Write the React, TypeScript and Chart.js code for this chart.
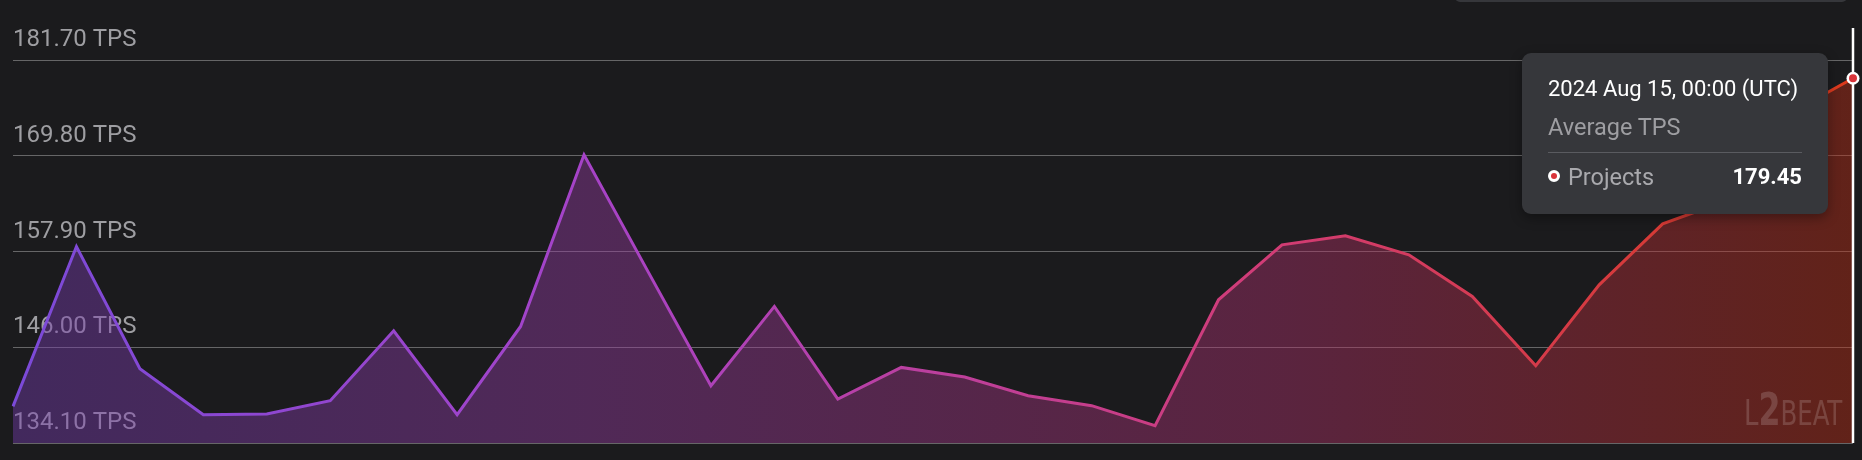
import React, { useEffect, useRef } from "react";
import { Chart, registerables } from "chart.js";

Chart.register(...registerables);

// ---- data ----
const dateLabels = [
  "2024 Jul 17", "2024 Jul 18", "2024 Jul 19", "2024 Jul 20", "2024 Jul 21",
  "2024 Jul 22", "2024 Jul 23", "2024 Jul 24", "2024 Jul 25", "2024 Jul 26",
  "2024 Jul 27", "2024 Jul 28", "2024 Jul 29", "2024 Jul 30", "2024 Jul 31",
  "2024 Aug 01", "2024 Aug 02", "2024 Aug 03", "2024 Aug 04", "2024 Aug 05",
  "2024 Aug 06", "2024 Aug 07", "2024 Aug 08", "2024 Aug 09", "2024 Aug 10",
  "2024 Aug 11", "2024 Aug 12", "2024 Aug 13", "2024 Aug 14", "2024 Aug 15",
];
const tpsValues = [
  138.65, 158.53, 143.33, 137.62, 137.7, 139.36, 148.06, 137.62, 148.59, 169.93,
  155.53, 141.22, 151.08, 139.57, 143.5, 142.3, 139.98, 138.74, 136.25, 151.91,
  158.74, 159.86, 157.5, 152.32, 143.71, 153.77, 161.35, 164.2, 175.06, 179.45,
];
const yTickValues = [134.1, 146.0, 157.9, 169.8, 181.7];
const yMin = 134.1;
const yMax = 185.7;
const seriesName = "Projects";
const tooltipTitle = "2024 Aug 15, 00:00 (UTC)";
const tooltipSubtitle = "Average TPS";
const activeIndex = tpsValues.length - 1;

const BG = "#1b1b1d";

const lineStops: [number, string][] = [
  [0, "#7b4ad8"],
  [0.31, "#a643c8"],
  [0.69, "#d23c74"],
  [0.9, "#d63a34"],
  [1, "#dc3a1c"],
];
const fillStops: [number, string][] = [
  [0, "rgba(116,60,173,0.45)"],
  [0.31, "rgba(147,60,160,0.45)"],
  [0.69, "rgba(169,49,107,0.45)"],
  [1, "rgba(185,45,22,0.45)"],
];

function hGradient(chart: any, stops: [number, string][]) {
  const area = chart.chartArea;
  if (!area) return stops[0][1];
  const g = chart.ctx.createLinearGradient(area.left, 0, area.right, 0);
  stops.forEach(([o, c]) => g.addColorStop(o, c));
  return g;
}

const crosshairPlugin = {
  id: "crosshair",
  afterDatasetsDraw(chart: any) {
    const meta = chart.getDatasetMeta(0);
    const el = meta.data[activeIndex];
    if (!el) return;
    const { ctx, chartArea } = chart;
    ctx.save();
    ctx.strokeStyle = "#ffffff";
    ctx.lineWidth = 2.5;
    ctx.beginPath();
    ctx.moveTo(el.x, chartArea.top);
    ctx.lineTo(el.x, chartArea.bottom);
    ctx.stroke();
    ctx.beginPath();
    ctx.arc(el.x, el.y, 6.5, 0, Math.PI * 2);
    ctx.fillStyle = "#ffffff";
    ctx.fill();
    ctx.beginPath();
    ctx.arc(el.x, el.y, 4, 0, Math.PI * 2);
    ctx.fillStyle = "#d9343a";
    ctx.fill();
    ctx.restore();
  },
};

function TpsChart() {
  const ref = useRef<HTMLCanvasElement | null>(null);
  useEffect(() => {
    if (!ref.current) return;
    const chart = new Chart(ref.current, {
      type: "line",
      data: {
        labels: dateLabels,
        datasets: [
          {
            label: seriesName,
            data: tpsValues,
            borderWidth: 3,
            tension: 0,
            pointRadius: 0,
            pointHoverRadius: 0,
            fill: "start",
            borderColor: (c: any) => hGradient(c.chart, lineStops),
            backgroundColor: (c: any) => hGradient(c.chart, fillStops),
          },
        ],
      },
      options: {
        animation: false,
        responsive: false,
        devicePixelRatio: 1,
        events: [],
        layout: { padding: { left: 13, right: 9, top: 28, bottom: 17 } },
        plugins: {
          legend: { display: false },
          tooltip: { enabled: false },
        },
        scales: {
          x: { display: false, offset: false },
          y: {
            min: yMin,
            max: yMax,
            afterBuildTicks: (scale: any) => {
              scale.ticks = yTickValues.map((v) => ({ value: v }));
            },
            border: { display: false },
            grid: {
              color: "rgba(255,255,255,0.33)",
              lineWidth: 1,
              drawTicks: false,
            },
            ticks: {
              mirror: true,
              padding: 0,
              labelOffset: -20,
              color: "#9e9ea2",
              font: { family: "Roboto", size: 24 },
              callback: (v: any) => Number(v).toFixed(2) + " TPS",
            },
          },
        },
      },
      plugins: [crosshairPlugin],
    } as any);
    return () => chart.destroy();
  }, []);
  return (
    <canvas
      ref={ref}
      width={1862}
      height={460}
      style={{ display: "block", width: 1862, height: 460 }}
    />
  );
}

export default function App() {
  const value = tpsValues[activeIndex].toFixed(2);
  return (
    <div
      style={{
        position: "fixed",
        left: 0,
        top: 0,
        width: 1862,
        height: 460,
        background: BG,
        overflow: "hidden",
        fontFamily: "Roboto, sans-serif",
      }}
    >
      <TpsChart />
      {/* partially visible control above the chart */}
      <div
        style={{
          position: "absolute",
          left: 1455,
          top: -8,
          width: 392,
          height: 10,
          background: "#36373b",
          borderRadius: 8,
        }}
      />
      {/* watermark */}
      <div
        style={{
          position: "absolute",
          left: 1744,
          top: 388,
          height: 44,
          color: "rgba(255,255,255,0.16)",
          fontFamily: "'DejaVu Sans Condensed', 'Liberation Sans Narrow', sans-serif",
          whiteSpace: "nowrap",
          lineHeight: "44px",
          transform: "scaleX(0.8)",
          transformOrigin: "left center",
        }}
      >
        <span style={{ fontSize: 36 }}>L</span>
        <span style={{ fontSize: 44, fontWeight: 700 }}>2</span>
        <span style={{ fontSize: 34 }}>BEAT</span>
      </div>
      {/* tooltip */}
      <div
        style={{
          position: "absolute",
          left: 1522,
          top: 53,
          width: 306,
          height: 161,
          background: "#36373b",
          borderRadius: 9,
          boxShadow: "0 4px 12px rgba(0,0,0,0.35)",
          color: "#ffffff",
        }}
      >
        <div
          style={{
            position: "absolute",
            left: 26,
            top: 25,
            fontSize: 22,
            lineHeight: "22px",
            whiteSpace: "nowrap",
            color: "#ffffff",
          }}
        >
          {tooltipTitle}
        </div>
        <div
          style={{
            position: "absolute",
            left: 26,
            top: 62,
            fontSize: 23.5,
            lineHeight: "24px",
            whiteSpace: "nowrap",
            color: "#9e9ea2",
          }}
        >
          {tooltipSubtitle}
        </div>
        <div
          style={{
            position: "absolute",
            left: 26,
            right: 26,
            top: 99,
            height: 1,
            background: "#5a5b60",
          }}
        />
        <div
          style={{
            position: "absolute",
            left: 26,
            top: 117,
            width: 12,
            height: 12,
            borderRadius: 6,
            background: "#ffffff",
            boxSizing: "border-box",
            border: "3px solid #ffffff",
          }}
        >
          <div
            style={{
              width: 6,
              height: 6,
              borderRadius: 3,
              background: "#d9343a",
            }}
          />
        </div>
        <div
          style={{
            position: "absolute",
            left: 46,
            top: 112,
            fontSize: 23.5,
            lineHeight: "24px",
            whiteSpace: "nowrap",
            color: "#a9a9ad",
          }}
        >
          {seriesName}
        </div>
        <div
          style={{
            position: "absolute",
            right: 26,
            top: 113,
            fontSize: 22,
            lineHeight: "22px",
            fontWeight: 700,
            whiteSpace: "nowrap",
            color: "#ffffff",
          }}
        >
          {value}
        </div>
      </div>
    </div>
  );
}
